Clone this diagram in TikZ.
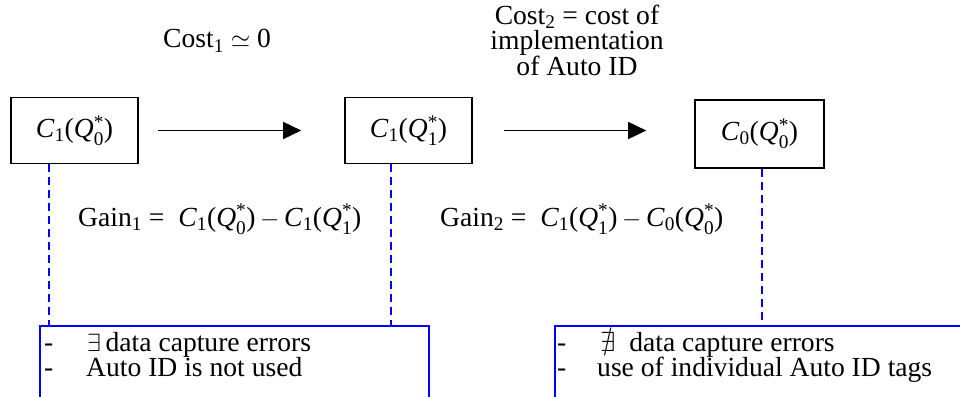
\documentclass[tikz,border=0pt]{standalone}
\usepackage{amsmath,amssymb}
\usepackage{fontspec}
\setmainfont{Liberation Serif}
\usetikzlibrary{arrows.meta}

% cost function C_i(Q_j^*)
\newcommand{\costfn}[2]{\textit{C}$_{\text{#1}}$(\textit{Q}$^{\text{*}}_{\text{#2}}$)}

\begin{document}
\begin{tikzpicture}[x=1pt,y=-1pt,
  every node/.style={font=\fontsize{27.6}{25}\selectfont, inner sep=0pt},
  state/.style={draw, line width=1.6pt, minimum width=127pt, minimum height=66pt},
  flow/.style={line width=1.6pt, -{Triangle[length=18pt,width=17pt]}},
  link/.style={blue, line width=1.6pt, dash pattern=on 8pt off 5pt},
  cond/.style={draw=blue, line width=1.6pt, anchor=north west, minimum height=120pt}]
  \useasboundingbox (0,0) rectangle (960,396);
  \node[state] (q0) at (74.5,130.5) {\costfn{1}{0}};
  \node[state] (q1) at (408.5,130.5) {\costfn{1}{1}};
  \node[state, minimum width=129pt, minimum height=68pt] (q2) at (759.5,134) {\costfn{0}{0}};
  \draw[flow, shorten <=19pt, shorten >=43pt] (q0.east) -- (q1.west);
  \draw[flow, shorten <=31pt, shorten >=48pt] (q1.east) -- (q1.east -| q2.west);
  \node[anchor=base west] (cost1) at (163,48) {Cost$_{\text{1}}\simeq$ 0};
  \node[align=center, anchor=north] (cost2) at (577,5) {Cost$_{\text{2}}$ = cost of\\implementation\\of Auto ID};
  \node[anchor=base west] (gain1) at (78,226) {Gain$_{\text{1}}$ = \ \costfn{1}{0}\,$-$\,\costfn{1}{1}};
  \node[anchor=base west] (gain2) at (440,226) {Gain$_{\text{2}}$ = \ \costfn{1}{1}\,$-$\,\costfn{0}{0}};
  % conditions
  \node[cond, minimum width=389pt] (without) at (39,325) {};
  \node[cond, minimum width=420pt] (with) at (554,325) {};
  \node[anchor=base west] (wa) at (44,351) {-};
  \node[anchor=base west] (wb) at (44,376) {-};
  \node[anchor=base west] (wta) at (87,351) {$\exists$\,data capture errors};
  \node[anchor=base west] (wtb) at (86,376) {Auto ID is not used};
  \node[anchor=base west] (ua) at (557,351) {-};
  \node[anchor=base west] (ub) at (557,376) {-};
  \node[anchor=base west] (uta) at (600,351) {$\nexists$\ \ data capture errors};
  \node[anchor=base west] (utb) at (597,376) {use of individual Auto ID tags};
  % dashed drops
  \coordinate (d0) at ([xshift=39pt]q0.south west);
  \coordinate (d1) at ([xshift=47pt]q1.south west);
  \coordinate (d2) at ([xshift=68pt]q2.south west);
  \draw[link] (d0) -- (d0 |- without.north);
  \draw[link] (d1) -- (d1 |- without.north);
  \draw[link] (d2) -- (d2 |- with.north);
\end{tikzpicture}
\end{document}
